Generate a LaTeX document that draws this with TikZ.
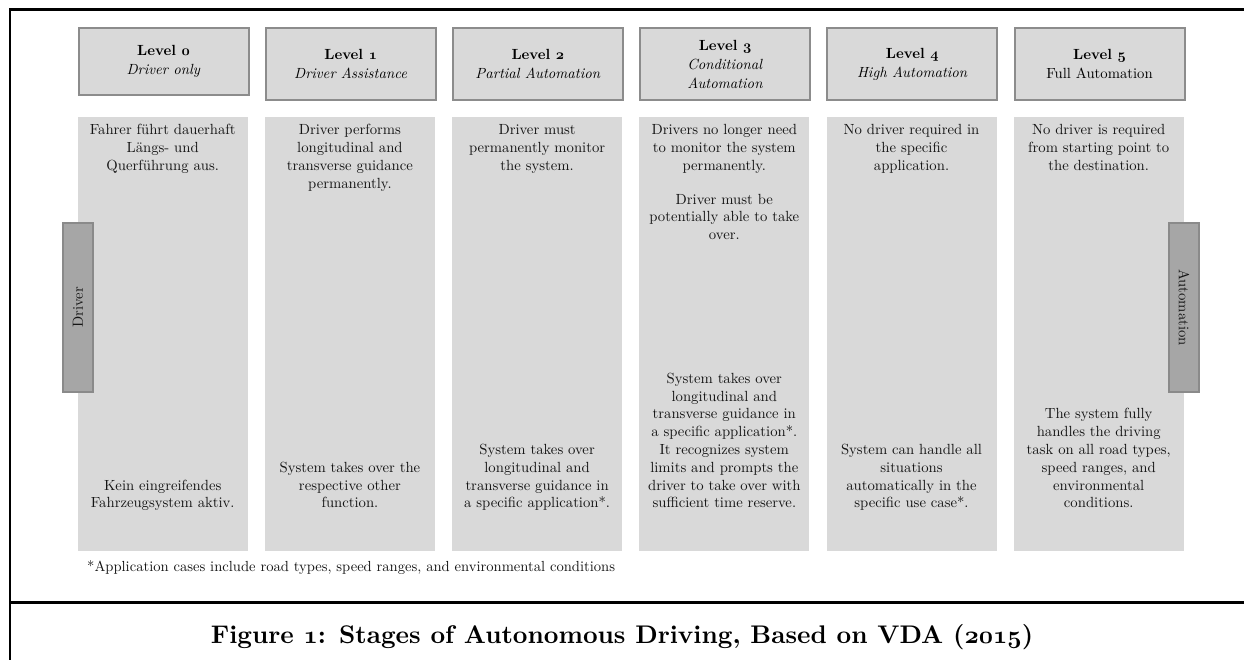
\documentclass[tikz,border=0pt]{standalone}
\usepackage{fontspec}
% the 10pt design of Latin Modern, scaled up, gives a sturdier stroke
\setmainfont{lmroman10-regular.otf}[
  BoldFont=lmroman10-bold.otf,
  ItalicFont=lmroman10-italic.otf,
  BoldItalicFont=lmroman10-bolditalic.otf]
\definecolor{boxfill}{HTML}{D9D9D9}
\definecolor{hdrline}{HTML}{8C8C8C}
\definecolor{barfill}{HTML}{A6A6A6}
\definecolor{barline}{HTML}{8A8A8A}
\definecolor{inktext}{HTML}{141414}
% bold old-style figures taken from the Computer Modern bold math italic font
\newcommand\osnumbf[1]{{\fontencoding{OML}\fontfamily{cmm}\fontseries{b}\fontshape{it}\selectfont #1}}
\newcommand\bodyfont{\fontsize{14.7}{17.8}\selectfont}
\newcommand\hdrfont{\fontsize{14.7}{19}\selectfont}
\tikzset{
  hdr/.style={draw=hdrline, line width=2pt, fill=boxfill, anchor=north west,
    minimum width=170pt, inner sep=0pt, align=center, font=\hdrfont, text=black},
  colbox/.style={fill=boxfill, anchor=north west, minimum width=170pt,
    minimum height=434pt, inner sep=0pt},
  toptext/.style={anchor=north, inner sep=0pt, align=center, font=\bodyfont, text=inktext},
  bottext/.style={anchor=south, inner sep=0pt, align=center, font=\bodyfont, text=inktext},
  sidebar/.style={draw=barline, line width=1.5pt, fill=barfill, minimum width=30pt,
    minimum height=169pt, inner sep=0pt},
  frameline/.style={line width=2.6pt, black}
}
\begin{document}
\begin{tikzpicture}[x=1pt,y=-1pt]
\useasboundingbox (0,0) rectangle (1244,659);
\clip (0,0) rectangle (1244,659);

% outer frame of the figure cell
\coordinate (frTR) at (1250,9.5);
\coordinate (frTL) at (10,9.5);
\coordinate (frBL) at (10,665);
\coordinate (sepL) at (10,602.7);
\coordinate (sepR) at (1250,602.7);
\draw[frameline] (frTR) -- (frTL) -- (frBL);
\draw[frameline] (sepL) -- (sepR);

% column bodies
\node[colbox] (b0) at (77.5,117) {};
\node[colbox] (b1) at (264.7,117) {};
\node[colbox] (b2) at (451.9,117) {};
\node[colbox] (b3) at (639.1,117) {};
\node[colbox] (b4) at (826.3,117) {};
\node[colbox] (b5) at (1013.5,117) {};

% level headers
\node[hdr, minimum height=67pt] (h0) at (77.5,27) {\textbf{Level \osnumbf{0}}\\\textit{Driver only}};
\node[hdr, minimum height=72pt] (h1) at (264.7,27) {\textbf{Level \osnumbf{1}}\\\textit{Driver Assistance}};
\node[hdr, minimum height=72pt] (h2) at (451.9,27) {\textbf{Level \osnumbf{2}}\\\textit{Partial Automation}};
\node[hdr, minimum height=72pt] (h3) at (639.1,27) {\textbf{Level \osnumbf{3}}\\\textit{Conditional}\\\textit{Automation}};
\node[hdr, minimum height=72pt] (h4) at (826.3,27) {\textbf{Level \osnumbf{4}}\\\textit{High Automation}};
\node[hdr, minimum height=72pt] (h5) at (1013.5,27) {\textbf{Level \osnumbf{5}}\\Full Automation};

% upper statements
\node[toptext] (t0) at ([yshift=-5pt]b0.north) {\strut Fahrer führt dauerhaft\\Längs- und\\Querführung aus.};
\node[toptext] (t1) at ([yshift=-5pt]b1.north) {\strut Driver performs\\longitudinal and\\transverse guidance\\permanently.};
\node[toptext] (t2) at ([yshift=-5pt]b2.north) {\strut Driver must\\permanently monitor\\the system.};
\node[toptext] (t3) at ([yshift=-5pt]b3.north) {\strut Drivers no longer need\\to monitor the system\\permanently.\\[16pt]Driver must be\\potentially able to take\\over.};
\node[toptext] (t4) at ([yshift=-5pt]b4.north) {\strut No driver required in\\the specific\\application.};
\node[toptext] (t5) at ([yshift=-5pt]b5.north) {\strut No driver is required\\from starting point to\\the destination.};

% lower statements
\node[bottext] (s0) at ([yshift=38pt]b0.south) {Kein eingreifendes\\Fahrzeugsystem aktiv.\strut};
\node[bottext] (s1) at ([yshift=38pt]b1.south) {System takes over the\\respective other\\function.\strut};
\node[bottext] (s2) at ([yshift=38pt]b2.south) {System takes over\\longitudinal and\\transverse guidance in\\a specific application*.\strut};
\node[bottext] (s3) at ([yshift=38pt]b3.south) {System takes over\\longitudinal and\\transverse guidance in\\a specific application*.\\It recognizes system\\limits and prompts the\\driver to take over with\\sufficient time reserve.\strut};
\node[bottext] (s4) at ([yshift=38pt]b4.south) {System can handle all\\situations\\automatically in the\\specific use case*.\strut};
\node[bottext] (s5) at ([yshift=38pt]b5.south) {The system fully\\handles the driving\\task on all road types,\\speed ranges, and\\environmental\\conditions.\strut};

% side bars
\node[sidebar] (drv) at (78,307.5) {};
\node[rotate=90, font=\bodyfont, text=inktext] (drvlbl) at (drv.center) {Driver};
\node[sidebar] (aut) at (1184,307.5) {};
\node[rotate=-90, font=\bodyfont, text=inktext] (autlbl) at (aut.center) {Automation};

% footnote and caption
\node[anchor=base west, inner sep=0pt, font=\fontsize{14.6}{16}\selectfont, text=inktext] (note) at (87,571)
  {*Application cases include road types, speed ranges, and environmental conditions};
\node[anchor=base, inner sep=0pt, font=\fontsize{25.5}{30}\selectfont\bfseries] (cap) at (622,643)
  {Figure \osnumbf{1}: Stages of Autonomous Driving, Based on VDA (\osnumbf{2015})};
\end{tikzpicture}
\end{document}
